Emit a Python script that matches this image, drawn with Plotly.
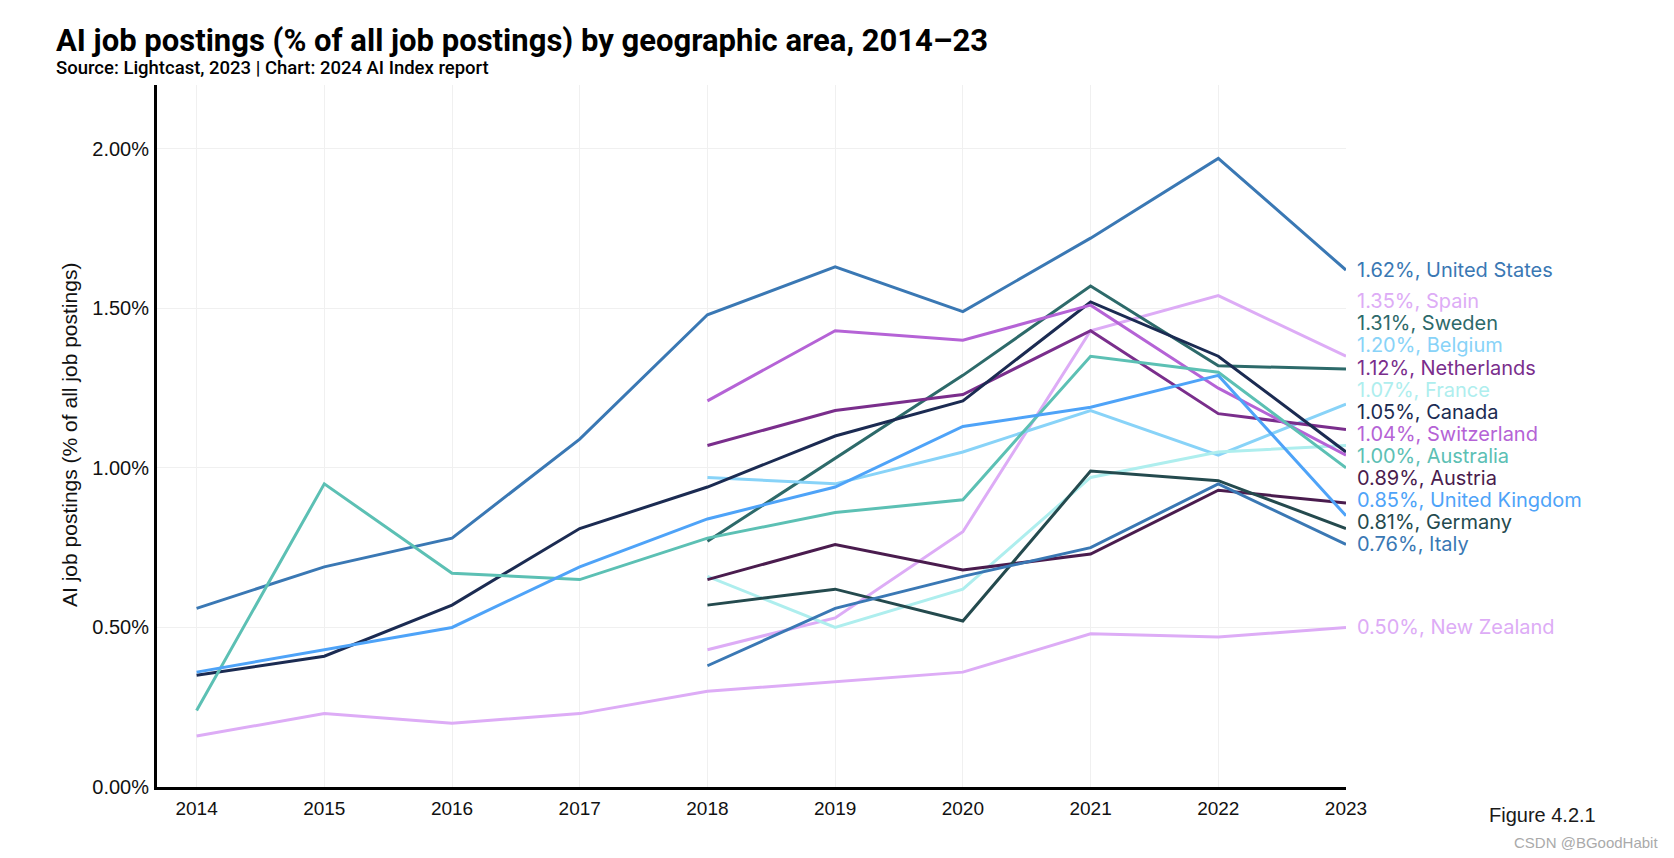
import plotly.graph_objects as go

years = [2014, 2015, 2016, 2017, 2018, 2019, 2020, 2021, 2022, 2023]

countries = ["United States", "Spain", "Sweden", "Belgium", "Netherlands", "France",
             "Canada", "Switzerland", "Australia", "Austria", "United Kingdom",
             "Germany", "Italy", "New Zealand"]

us = [0.56, 0.69, 0.78, 1.09, 1.48, 1.63, 1.49, 1.72, 1.97, 1.62]
spain = [None, None, None, None, 0.43, 0.53, 0.80, 1.43, 1.54, 1.35]
sweden = [None, None, None, None, 0.77, 1.03, 1.29, 1.57, 1.32, 1.31]
belgium = [None, None, None, None, 0.97, 0.95, 1.05, 1.18, 1.04, 1.20]
netherlands = [None, None, None, None, 1.07, 1.18, 1.23, 1.43, 1.17, 1.12]
france = [None, None, None, None, 0.66, 0.50, 0.62, 0.97, 1.05, 1.07]
canada = [0.35, 0.41, 0.57, 0.81, 0.94, 1.10, 1.21, 1.52, 1.35, 1.05]
switzerland = [None, None, None, None, 1.21, 1.43, 1.40, 1.51, 1.25, 1.04]
australia = [0.24, 0.95, 0.67, 0.65, 0.78, 0.86, 0.90, 1.35, 1.30, 1.00]
austria = [None, None, None, None, 0.65, 0.76, 0.68, 0.73, 0.93, 0.89]
uk = [0.36, 0.43, 0.50, 0.69, 0.84, 0.94, 1.13, 1.19, 1.29, 0.85]
germany = [None, None, None, None, 0.57, 0.62, 0.52, 0.99, 0.96, 0.81]
italy = [None, None, None, None, 0.38, 0.56, 0.66, 0.75, 0.95, 0.76]
new_zealand = [0.16, 0.23, 0.20, 0.23, 0.30, 0.33, 0.36, 0.48, 0.47, 0.50]

series = [us, spain, sweden, belgium, netherlands, france, canada, switzerland,
          australia, austria, uk, germany, italy, new_zealand]

y_ticks = [0, 0.5, 1.0, 1.5, 2.0]
y_tick_text = ["0.00%", "0.50%", "1.00%", "1.50%", "2.00%"]

colors = ["#3a78b4", "#ddacf6", "#2d6a6a", "#88d3f8", "#7a2e8c", "#aeeeee",
          "#1b2b52", "#b563d6", "#5cc0b4", "#4a1c4e", "#4ea3f8", "#244a4e",
          "#3a78b4", "#ddacf6"]

fig = go.Figure()
for name, vals, col in zip(countries, series, colors):
    fig.add_trace(go.Scatter(x=years, y=vals, mode="lines", name=name,
                             line=dict(color=col, width=3), connectgaps=False))

# dodge end labels (bottom-up, minimum gap in value units)
gap = 0.0693
order = sorted(range(len(countries)), key=lambda i: series[i][-1])
label_y = {}
prev = None
for i in order:
    v = series[i][-1]
    pos = v if prev is None else max(v, prev + gap)
    label_y[i] = pos
    prev = pos

for i, name in enumerate(countries):
    v = series[i][-1]
    fig.add_annotation(x=years[-1], y=label_y[i], xref="x", yref="y",
                       text=f"{v:.2f}%, {name}", showarrow=False,
                       xanchor="left", yanchor="middle", xshift=9,
                       font=dict(family="Inter", size=20, color=colors[i]))

fig.add_annotation(text="<b>AI job postings (% of all job postings) by geographic area, 2014–23</b>",
                   xref="paper", yref="paper", x=-0.0866, y=1.063, showarrow=False,
                   xanchor="left", yanchor="middle",
                   font=dict(family="Roboto", size=31, color="#000000"))
fig.add_annotation(text="<span style='font-weight:500'>Source: Lightcast, 2023 | Chart: 2024 AI Index report</span>",
                   xref="paper", yref="paper", x=-0.0866, y=1.0242, showarrow=False,
                   xanchor="left", yanchor="middle",
                   font=dict(family="Roboto", size=18.5, color="#000000"))

fig.add_annotation(text="AI job postings (% of all job postings)", textangle=-90,
                   xref="paper", yref="paper", x=-0.0737, y=0.502, showarrow=False,
                   xanchor="center", yanchor="middle",
                   font=dict(family="Liberation Sans, Arial", size=21, color="#111111"))

fig.add_annotation(text="Figure 4.2.1", xref="paper", yref="paper",
                   x=1.212, y=-0.0393, showarrow=False, xanchor="right", yanchor="middle",
                   font=dict(family="Liberation Sans, Arial", size=20, color="#1a1a1a"))
fig.add_annotation(text="CSDN @BGoodHabit", xref="paper", yref="paper",
                   x=1.2641, y=-0.0788, showarrow=False, xanchor="right", yanchor="middle",
                   font=dict(family="Liberation Sans, Arial", size=15, color="#aaaaaa"))

fig.update_layout(
    width=1674, height=858,
    margin=dict(l=157, r=328, t=85, b=71),
    paper_bgcolor="white", plot_bgcolor="white",
    showlegend=False,
    xaxis=dict(range=[2013.69, 2023.0], tickmode="array", tickvals=years,
               ticktext=[str(y) for y in years],
               showgrid=True, gridcolor="#f0f0f0", gridwidth=1,
               showline=True, linecolor="black", linewidth=3, zeroline=False,
               ticks="", ticklabelstandoff=2,
               tickfont=dict(family="Liberation Sans, Arial", size=19, color="#111111")),
    yaxis=dict(range=[0, 2.2], tickmode="array", tickvals=y_ticks, ticktext=y_tick_text,
               showgrid=True, gridcolor="#f0f0f0", gridwidth=1,
               showline=True, linecolor="black", linewidth=3, zeroline=False,
               ticks="", ticklabelstandoff=1,
               tickfont=dict(family="Liberation Sans, Arial", size=20, color="#111111")),
)

fig.write_html("out.html")
